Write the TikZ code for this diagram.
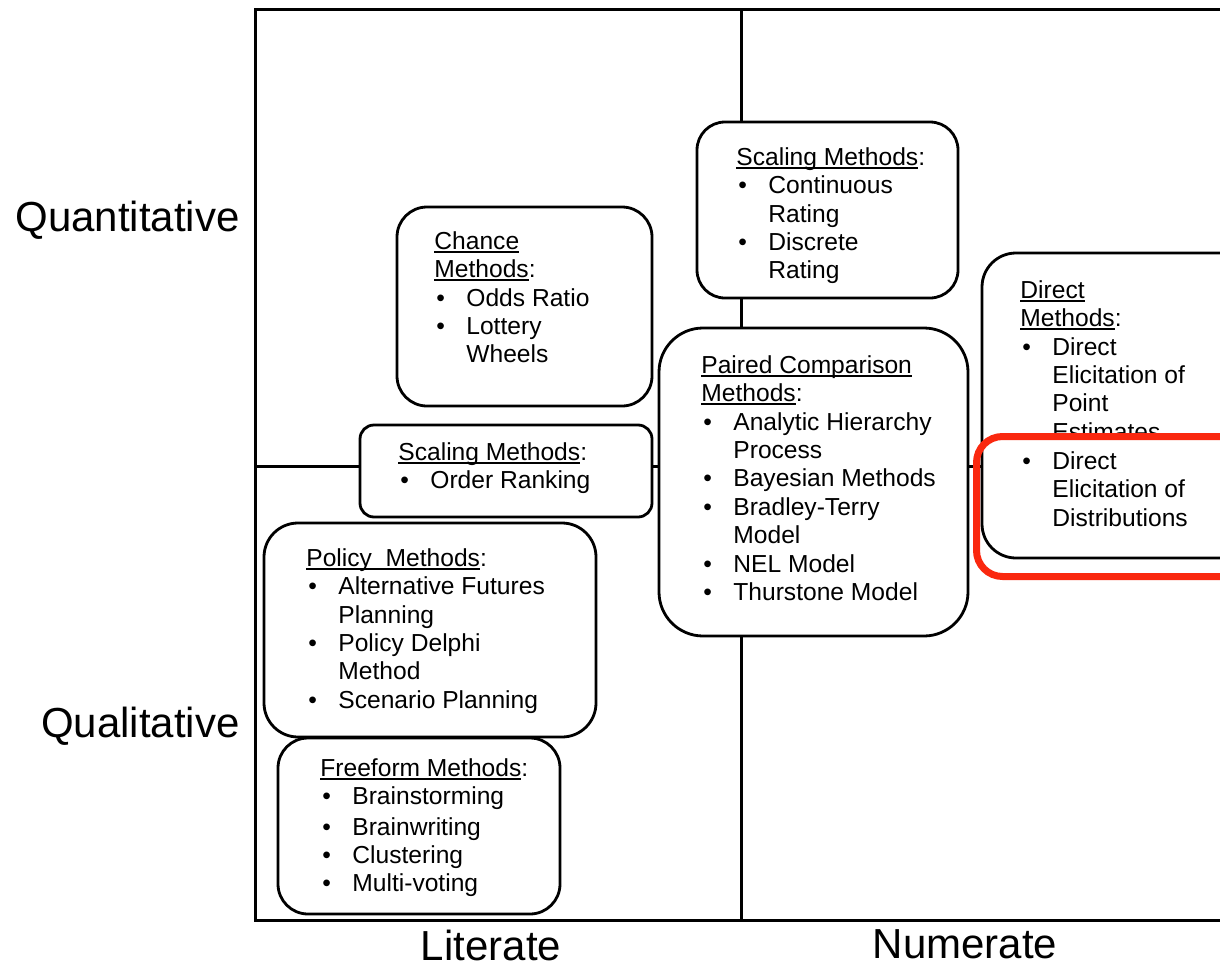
\documentclass[tikz,border=0pt]{standalone}
\usepackage{fontspec}
\setmainfont{Liberation Sans}
\usetikzlibrary{positioning}
\definecolor{markred}{RGB}{250,40,15}
\newsavebox\hdbox
\newcommand{\hd}[1]{\sbox\hdbox{#1}\rlap{\rule[-1.8pt]{\wd\hdbox}{0.9pt}}\usebox\hdbox}
\newcommand{\itm}{\makebox[16pt][l]{\hspace{1pt}\textbullet}}
\newcommand{\ind}{\hspace*{16pt}}
\tikzset{
  methodbox/.style={draw, line width=1.4pt, fill=white},
  listtxt/.style={anchor=north west, inner sep=0pt, align=left, font=\fontsize{12.3}{14.2}\selectfont},
  axislabel/.style={font=\fontsize{21}{25}\selectfont, inner sep=0pt}
}
\begin{document}
\begin{tikzpicture}[x=0.5pt,y=-0.5pt]
\useasboundingbox (0,0) rectangle (1220,969);
% frame and quadrants
\draw[line width=1.5pt] (1240,9) -- (255,9) -- (255,920) -- (1240,920);
\draw[line width=1.5pt] (741,9) -- (741,920);
\draw[line width=1.5pt] (255,466) -- (1240,466);

% axis labels
\node[axislabel, anchor=base east] (quant) at (240,231) {Quantitative};
\node[axislabel, anchor=base east] (qual) at (240,737) {Qualitative};
\node[axislabel, anchor=base] (lit) at (491,960) {Literate};
\node[axislabel, anchor=base] (num) at (965,958) {Numerate};

% literate side
\draw[methodbox, rounded corners=15pt] (397,207) rectangle (652,406);
\node[listtxt] (chance) at (434,231) {\hd{Chance}\\\hd{Methods}:\\\itm Odds Ratio\\\itm Lottery\\\ind Wheels};

\draw[methodbox, rounded corners=7pt] (360,425) rectangle (652,517);
\node[listtxt] (ranking) at (398,442) {\hd{Scaling Methods}:\\\itm Order Ranking};

\draw[methodbox, rounded corners=17pt] (264,523) rectangle (596,737);
\node[listtxt] (policy) at (306,548) {\hd{Policy\ \ Methods}:\\\itm Alternative Futures\\\ind Planning\\\itm Policy Delphi\\\ind Method\\\itm Scenario Planning};

\draw[methodbox, rounded corners=15pt] (278,738) rectangle (560,914);
\node[listtxt] (freeform) at (320,758) {\hd{Freeform Methods}:\\\itm Brainstorming\\[1pt]\itm Brainwriting\\\itm Clustering\\\itm Multi-voting};

% numerate side
\draw[methodbox, rounded corners=14pt] (697,122) rectangle (958,298);
\node[listtxt] (rating) at (736,147) {\hd{Scaling Methods}:\\\itm Continuous\\\ind Rating\\\itm Discrete\\\ind Rating};

\draw[methodbox, rounded corners=22pt] (659,328) rectangle (968,636);
\node[listtxt] (paired) at (701,355) {\hd{Paired Comparison}\\\hd{Methods}:\\\itm Analytic Hierarchy\\\ind Process\\\itm Bayesian Methods\\\itm Bradley-Terry\\\ind Model\\\itm NEL Model\\\itm Thurstone Model};

\draw[methodbox, rounded corners=17pt] (982,253) rectangle (1260,558);
\node[listtxt] (direct) at (1020,280) {\hd{Direct}\\\hd{Methods}:\\\itm Direct\\\ind Elicitation of\\\ind Point\\\ind Estimates};
\fill[white] (986,437) rectangle (1225,450);
\node[listtxt] (distrib) at (1020,451) {\itm Direct\\\ind Elicitation of\\\ind Distributions};

% highlight
\draw[markred, line width=3.5pt, rounded corners=13pt] (976.5,436.5) rectangle (1260,576.5);
\end{tikzpicture}
\end{document}
